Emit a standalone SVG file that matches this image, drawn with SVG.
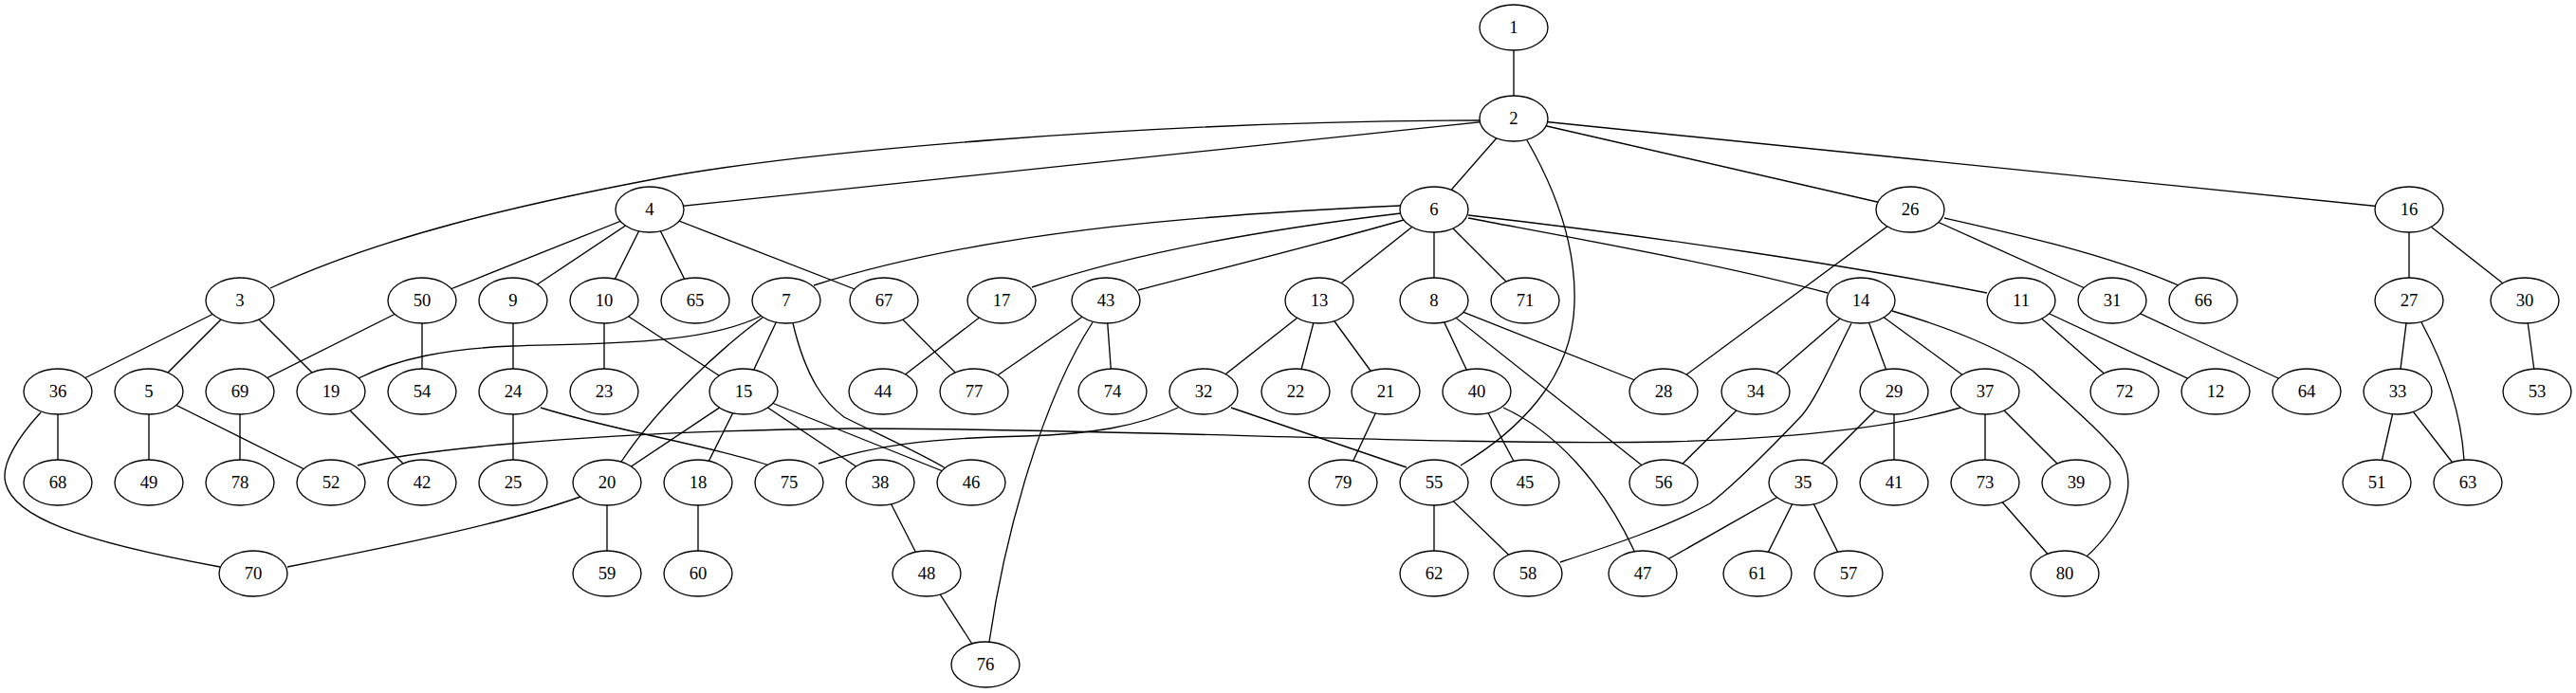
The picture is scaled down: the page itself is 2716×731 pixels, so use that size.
<svg xmlns="http://www.w3.org/2000/svg" width="2716" height="731" viewBox="0 0 2716 731">
<style>
.node ellipse{fill:#fff;stroke:#000;stroke-width:1.33}
.node text{font-family:"Liberation Serif","Times New Roman",serif;font-size:18.67px;text-anchor:middle;fill:#000}
#edges path{fill:none;stroke:#000;stroke-width:1.33}
</style>
<rect width="2716" height="731" fill="#fff"/>
<g id="edges">
<path d="M1596,29 L1596,125"/>
<path d="M1560,127 C1200,128 850,160 700,187 C550,215 400,250 285,304"/>
<path d="M1596,125 L685,221"/>
<path d="M1596,125 L1512,221"/>
<path d="M1610,148 C1640,200 1662,260 1660,320 C1658,400 1600,455 1540,491"/>
<path d="M1596,125 L2014,221"/>
<path d="M1596,125 L2540,221"/>
<path d="M685,221 L445,317"/>
<path d="M685,221 L541,317"/>
<path d="M685,221 L637,317"/>
<path d="M685,221 L733,317"/>
<path d="M685,221 L932,317"/>
<path d="M253,317 L61,413"/>
<path d="M253,317 L157,413"/>
<path d="M253,317 L349,413"/>
<path d="M445,317 L253,413"/>
<path d="M445,317 L445,413"/>
<path d="M541,317 L541,413"/>
<path d="M637,317 L637,413"/>
<path d="M637,317 L784,413"/>
<path d="M803,333 C740,365 620,362 540,365 C470,368 420,378 378,399"/>
<path d="M829,317 L784,413"/>
<path d="M804,335 C770,360 700,420 655,487"/>
<path d="M836,341 C850,400 870,425 890,440 C930,460 970,478 997,494"/>
<path d="M1476,217 C1300,225 1050,240 858,301"/>
<path d="M1477,225 C1350,240 1200,265 1088,303"/>
<path d="M1480,232 C1400,255 1300,280 1200,306"/>
<path d="M1512,221 L1391,317"/>
<path d="M1512,221 L1512,317"/>
<path d="M1512,221 L1608,317"/>
<path d="M1548,230 C1680,255 1820,280 1927,309"/>
<path d="M1548,227 C1750,250 1950,280 2095,309"/>
<path d="M932,317 L1027,413"/>
<path d="M1056,317 L931,413"/>
<path d="M1166,317 L1027,413"/>
<path d="M1166,317 L1173,413"/>
<path d="M1152,340 C1100,420 1060,560 1043,677"/>
<path d="M1391,317 L1269,413"/>
<path d="M1391,317 L1366,413"/>
<path d="M1391,317 L1461,413"/>
<path d="M1512,317 L1557,413"/>
<path d="M1512,317 L1754,413"/>
<path d="M1512,317 L1754,509"/>
<path d="M2014,221 L1754,413"/>
<path d="M2014,221 L2227,317"/>
<path d="M2050,230 C2130,248 2220,268 2297,301"/>
<path d="M1962,317 L1851,413"/>
<path d="M1962,317 L1997,413"/>
<path d="M1962,317 L2093,413"/>
<path d="M1952,341 C1930,385 1915,420 1900,438 C1860,480 1830,510 1803,531 C1760,555 1700,575 1645,593"/>
<path d="M1995,328 C2070,350 2115,372 2143,391 C2180,425 2215,455 2235,480 C2255,510 2240,550 2200,587"/>
<path d="M2131,317 L2240,413"/>
<path d="M2131,317 L2336,413"/>
<path d="M2227,317 L2432,413"/>
<path d="M2540,221 L2540,317"/>
<path d="M2540,221 L2662,317"/>
<path d="M2540,317 L2528,413"/>
<path d="M2553,340 C2580,390 2595,440 2598,485"/>
<path d="M2662,317 L2675,413"/>
<path d="M61,413 L61,509"/>
<path d="M43,435 C20,460 0,490 6,510 C15,545 80,570 232,598"/>
<path d="M157,413 L157,509"/>
<path d="M157,413 L349,509"/>
<path d="M253,413 L253,509"/>
<path d="M349,413 L445,509"/>
<path d="M541,413 L541,509"/>
<path d="M570,430 C650,455 750,470 811,491"/>
<path d="M784,413 L640,509"/>
<path d="M784,413 L736,509"/>
<path d="M784,413 L928,509"/>
<path d="M784,413 L1024,509"/>
<path d="M1242,430 C1200,450 1150,458 1080,460 C980,462 920,470 863,489"/>
<path d="M1298,430 C1370,455 1430,475 1483,493"/>
<path d="M1461,413 L1416,509"/>
<path d="M1557,413 L1608,509"/>
<path d="M1585,430 C1640,455 1690,510 1723,581"/>
<path d="M1851,413 L1754,509"/>
<path d="M1997,413 L1901,509"/>
<path d="M1997,413 L1997,509"/>
<path d="M377,491 C420,478 600,455 900,452 C1200,452 1500,470 1760,466 C1900,462 2000,450 2067,430"/>
<path d="M2093,413 L2093,509"/>
<path d="M2093,413 L2189,509"/>
<path d="M2528,413 L2506,509"/>
<path d="M2528,413 L2602,509"/>
<path d="M612,524 C540,550 420,575 303,598"/>
<path d="M640,509 L640,605"/>
<path d="M736,509 L736,605"/>
<path d="M928,509 L977,605"/>
<path d="M1512,509 L1512,605"/>
<path d="M1512,509 L1611,605"/>
<path d="M1901,509 L1732,605"/>
<path d="M1901,509 L1853,605"/>
<path d="M1901,509 L1949,605"/>
<path d="M2093,509 L2177,605"/>
<path d="M977,605 L1039,701"/>
</g>
<g id="n1" class="node"><ellipse cx="1596" cy="29" rx="36" ry="24"/><text x="1596" y="35">1</text></g>
<g id="n2" class="node"><ellipse cx="1596" cy="125" rx="36" ry="24"/><text x="1596" y="131">2</text></g>
<g id="n4" class="node"><ellipse cx="685" cy="221" rx="36" ry="24"/><text x="685" y="227">4</text></g>
<g id="n6" class="node"><ellipse cx="1512" cy="221" rx="36" ry="24"/><text x="1512" y="227">6</text></g>
<g id="n26" class="node"><ellipse cx="2014" cy="221" rx="36" ry="24"/><text x="2014" y="227">26</text></g>
<g id="n16" class="node"><ellipse cx="2540" cy="221" rx="36" ry="24"/><text x="2540" y="227">16</text></g>
<g id="n3" class="node"><ellipse cx="253" cy="317" rx="36" ry="24"/><text x="253" y="323">3</text></g>
<g id="n50" class="node"><ellipse cx="445" cy="317" rx="36" ry="24"/><text x="445" y="323">50</text></g>
<g id="n9" class="node"><ellipse cx="541" cy="317" rx="36" ry="24"/><text x="541" y="323">9</text></g>
<g id="n10" class="node"><ellipse cx="637" cy="317" rx="36" ry="24"/><text x="637" y="323">10</text></g>
<g id="n65" class="node"><ellipse cx="733" cy="317" rx="36" ry="24"/><text x="733" y="323">65</text></g>
<g id="n7" class="node"><ellipse cx="829" cy="317" rx="36" ry="24"/><text x="829" y="323">7</text></g>
<g id="n67" class="node"><ellipse cx="932" cy="317" rx="36" ry="24"/><text x="932" y="323">67</text></g>
<g id="n17" class="node"><ellipse cx="1056" cy="317" rx="36" ry="24"/><text x="1056" y="323">17</text></g>
<g id="n43" class="node"><ellipse cx="1166" cy="317" rx="36" ry="24"/><text x="1166" y="323">43</text></g>
<g id="n13" class="node"><ellipse cx="1391" cy="317" rx="36" ry="24"/><text x="1391" y="323">13</text></g>
<g id="n8" class="node"><ellipse cx="1512" cy="317" rx="36" ry="24"/><text x="1512" y="323">8</text></g>
<g id="n71" class="node"><ellipse cx="1608" cy="317" rx="36" ry="24"/><text x="1608" y="323">71</text></g>
<g id="n14" class="node"><ellipse cx="1962" cy="317" rx="36" ry="24"/><text x="1962" y="323">14</text></g>
<g id="n11" class="node"><ellipse cx="2131" cy="317" rx="36" ry="24"/><text x="2131" y="323">11</text></g>
<g id="n31" class="node"><ellipse cx="2227" cy="317" rx="36" ry="24"/><text x="2227" y="323">31</text></g>
<g id="n66" class="node"><ellipse cx="2323" cy="317" rx="36" ry="24"/><text x="2323" y="323">66</text></g>
<g id="n27" class="node"><ellipse cx="2540" cy="317" rx="36" ry="24"/><text x="2540" y="323">27</text></g>
<g id="n30" class="node"><ellipse cx="2662" cy="317" rx="36" ry="24"/><text x="2662" y="323">30</text></g>
<g id="n36" class="node"><ellipse cx="61" cy="413" rx="36" ry="24"/><text x="61" y="419">36</text></g>
<g id="n5" class="node"><ellipse cx="157" cy="413" rx="36" ry="24"/><text x="157" y="419">5</text></g>
<g id="n69" class="node"><ellipse cx="253" cy="413" rx="36" ry="24"/><text x="253" y="419">69</text></g>
<g id="n19" class="node"><ellipse cx="349" cy="413" rx="36" ry="24"/><text x="349" y="419">19</text></g>
<g id="n54" class="node"><ellipse cx="445" cy="413" rx="36" ry="24"/><text x="445" y="419">54</text></g>
<g id="n24" class="node"><ellipse cx="541" cy="413" rx="36" ry="24"/><text x="541" y="419">24</text></g>
<g id="n23" class="node"><ellipse cx="637" cy="413" rx="36" ry="24"/><text x="637" y="419">23</text></g>
<g id="n15" class="node"><ellipse cx="784" cy="413" rx="36" ry="24"/><text x="784" y="419">15</text></g>
<g id="n44" class="node"><ellipse cx="931" cy="413" rx="36" ry="24"/><text x="931" y="419">44</text></g>
<g id="n77" class="node"><ellipse cx="1027" cy="413" rx="36" ry="24"/><text x="1027" y="419">77</text></g>
<g id="n74" class="node"><ellipse cx="1173" cy="413" rx="36" ry="24"/><text x="1173" y="419">74</text></g>
<g id="n32" class="node"><ellipse cx="1269" cy="413" rx="36" ry="24"/><text x="1269" y="419">32</text></g>
<g id="n22" class="node"><ellipse cx="1366" cy="413" rx="36" ry="24"/><text x="1366" y="419">22</text></g>
<g id="n21" class="node"><ellipse cx="1461" cy="413" rx="36" ry="24"/><text x="1461" y="419">21</text></g>
<g id="n40" class="node"><ellipse cx="1557" cy="413" rx="36" ry="24"/><text x="1557" y="419">40</text></g>
<g id="n28" class="node"><ellipse cx="1754" cy="413" rx="36" ry="24"/><text x="1754" y="419">28</text></g>
<g id="n34" class="node"><ellipse cx="1851" cy="413" rx="36" ry="24"/><text x="1851" y="419">34</text></g>
<g id="n29" class="node"><ellipse cx="1997" cy="413" rx="36" ry="24"/><text x="1997" y="419">29</text></g>
<g id="n37" class="node"><ellipse cx="2093" cy="413" rx="36" ry="24"/><text x="2093" y="419">37</text></g>
<g id="n72" class="node"><ellipse cx="2240" cy="413" rx="36" ry="24"/><text x="2240" y="419">72</text></g>
<g id="n12" class="node"><ellipse cx="2336" cy="413" rx="36" ry="24"/><text x="2336" y="419">12</text></g>
<g id="n64" class="node"><ellipse cx="2432" cy="413" rx="36" ry="24"/><text x="2432" y="419">64</text></g>
<g id="n33" class="node"><ellipse cx="2528" cy="413" rx="36" ry="24"/><text x="2528" y="419">33</text></g>
<g id="n53" class="node"><ellipse cx="2675" cy="413" rx="36" ry="24"/><text x="2675" y="419">53</text></g>
<g id="n68" class="node"><ellipse cx="61" cy="509" rx="36" ry="24"/><text x="61" y="515">68</text></g>
<g id="n49" class="node"><ellipse cx="157" cy="509" rx="36" ry="24"/><text x="157" y="515">49</text></g>
<g id="n78" class="node"><ellipse cx="253" cy="509" rx="36" ry="24"/><text x="253" y="515">78</text></g>
<g id="n52" class="node"><ellipse cx="349" cy="509" rx="36" ry="24"/><text x="349" y="515">52</text></g>
<g id="n42" class="node"><ellipse cx="445" cy="509" rx="36" ry="24"/><text x="445" y="515">42</text></g>
<g id="n25" class="node"><ellipse cx="541" cy="509" rx="36" ry="24"/><text x="541" y="515">25</text></g>
<g id="n20" class="node"><ellipse cx="640" cy="509" rx="36" ry="24"/><text x="640" y="515">20</text></g>
<g id="n18" class="node"><ellipse cx="736" cy="509" rx="36" ry="24"/><text x="736" y="515">18</text></g>
<g id="n75" class="node"><ellipse cx="832" cy="509" rx="36" ry="24"/><text x="832" y="515">75</text></g>
<g id="n38" class="node"><ellipse cx="928" cy="509" rx="36" ry="24"/><text x="928" y="515">38</text></g>
<g id="n46" class="node"><ellipse cx="1024" cy="509" rx="36" ry="24"/><text x="1024" y="515">46</text></g>
<g id="n79" class="node"><ellipse cx="1416" cy="509" rx="36" ry="24"/><text x="1416" y="515">79</text></g>
<g id="n55" class="node"><ellipse cx="1512" cy="509" rx="36" ry="24"/><text x="1512" y="515">55</text></g>
<g id="n45" class="node"><ellipse cx="1608" cy="509" rx="36" ry="24"/><text x="1608" y="515">45</text></g>
<g id="n56" class="node"><ellipse cx="1754" cy="509" rx="36" ry="24"/><text x="1754" y="515">56</text></g>
<g id="n35" class="node"><ellipse cx="1901" cy="509" rx="36" ry="24"/><text x="1901" y="515">35</text></g>
<g id="n41" class="node"><ellipse cx="1997" cy="509" rx="36" ry="24"/><text x="1997" y="515">41</text></g>
<g id="n73" class="node"><ellipse cx="2093" cy="509" rx="36" ry="24"/><text x="2093" y="515">73</text></g>
<g id="n39" class="node"><ellipse cx="2189" cy="509" rx="36" ry="24"/><text x="2189" y="515">39</text></g>
<g id="n51" class="node"><ellipse cx="2506" cy="509" rx="36" ry="24"/><text x="2506" y="515">51</text></g>
<g id="n63" class="node"><ellipse cx="2602" cy="509" rx="36" ry="24"/><text x="2602" y="515">63</text></g>
<g id="n70" class="node"><ellipse cx="267" cy="605" rx="36" ry="24"/><text x="267" y="611">70</text></g>
<g id="n59" class="node"><ellipse cx="640" cy="605" rx="36" ry="24"/><text x="640" y="611">59</text></g>
<g id="n60" class="node"><ellipse cx="736" cy="605" rx="36" ry="24"/><text x="736" y="611">60</text></g>
<g id="n48" class="node"><ellipse cx="977" cy="605" rx="36" ry="24"/><text x="977" y="611">48</text></g>
<g id="n62" class="node"><ellipse cx="1512" cy="605" rx="36" ry="24"/><text x="1512" y="611">62</text></g>
<g id="n58" class="node"><ellipse cx="1611" cy="605" rx="36" ry="24"/><text x="1611" y="611">58</text></g>
<g id="n47" class="node"><ellipse cx="1732" cy="605" rx="36" ry="24"/><text x="1732" y="611">47</text></g>
<g id="n61" class="node"><ellipse cx="1853" cy="605" rx="36" ry="24"/><text x="1853" y="611">61</text></g>
<g id="n57" class="node"><ellipse cx="1949" cy="605" rx="36" ry="24"/><text x="1949" y="611">57</text></g>
<g id="n80" class="node"><ellipse cx="2177" cy="605" rx="36" ry="24"/><text x="2177" y="611">80</text></g>
<g id="n76" class="node"><ellipse cx="1039" cy="701" rx="36" ry="24"/><text x="1039" y="707">76</text></g>
</svg>
